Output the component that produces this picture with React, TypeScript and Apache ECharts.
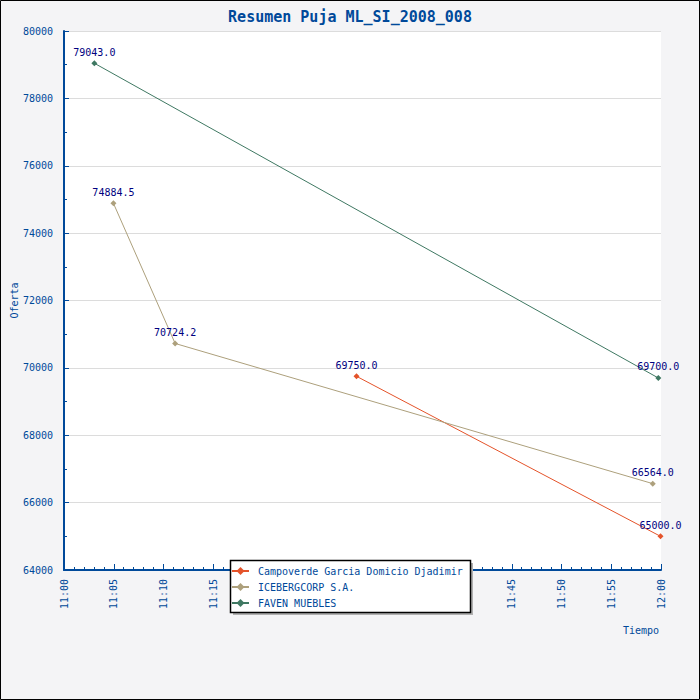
import React, { useEffect, useRef } from "react";
import * as echarts from "echarts";

const TITLE = "Resumen Puja ML_SI_2008_008";
const seriesNames = ["Campoverde Garcia Domicio Djadimir", "ICEBERGCORP S.A.", "FAVEN MUEBLES"];
const seriesColors = ["#e4532a", "#ada07c", "#3f7862"];
// minutes after 11:00
const campoverdeTimes = [29.4, 59.95];
const campoverdeValues = [69750.0, 65000.0];
const icebergTimes = [4.97, 11.17, 59.17];
const icebergValues = [74884.5, 70724.2, 66564.0];
const favenTimes = [3.05, 59.73];
const favenValues = [79043.0, 69700.0];
const xTickLabels = ["11:00", "11:05", "11:10", "11:15", "11:20", "11:25", "11:30", "11:35", "11:40", "11:45", "11:50", "11:55", "12:00"];

const FONT = "DejaVu Sans Mono";
const BLUE = "#00499a";

export default function App() {
  const ref = useRef<HTMLDivElement>(null);
  useEffect(() => {
    if (!ref.current) return;
    const chart = echarts.init(ref.current, null, { renderer: "svg" });
    const mk = (times: number[], vals: number[]) => times.map((t, i) => [t, vals[i]]);
    const allData = [
      mk(campoverdeTimes, campoverdeValues),
      mk(icebergTimes, icebergValues),
      mk(favenTimes, favenValues),
    ];
    chart.setOption({
      animation: false,
      backgroundColor: "#f4f4f6",
      textStyle: { fontFamily: FONT },
      title: {
        text: TITLE,
        left: "center",
        top: 4,
        textStyle: { fontFamily: FONT, fontSize: 15, fontWeight: "bold", color: BLUE },
      },
      graphic: [
        { type: "rect", shape: { x: 0.5, y: 0.5, width: 699, height: 699 }, style: { fill: "none", stroke: "#000", lineWidth: 1 }, z: 100 },
        { type: "rect", shape: { x: 233, y: 563, width: 240, height: 52 }, style: { fill: "#b0b0b0" }, z: 10 },
        { type: "rect", shape: { x: 230.5, y: 560.5, width: 240, height: 52 }, style: { fill: "#fff", stroke: "#000", lineWidth: 1.5 }, z: 11 },
        { type: "text", right: 41, top: 625, style: { text: "Tiempo", fontFamily: FONT, fontSize: 10, fill: BLUE }, z: 12 },
      ],
      legend: {
        orient: "vertical",
        left: 226,
        top: 561,
        itemWidth: 17,
        itemHeight: 10,
        itemGap: 6,
        z: 20,
        data: seriesNames,
        textStyle: { fontFamily: FONT, fontSize: 10, color: BLUE, padding: [0, 0, 0, 4] },
      },
      grid: {
        left: 64,
        right: 39,
        top: 31,
        bottom: 130,
        show: true,
        backgroundColor: "#ffffff",
        borderWidth: 0,
        containLabel: false,
        outerBoundsMode: "none",
      },
      xAxis: {
        type: "value",
        min: 0,
        max: 60,
        interval: 5,
        axisLine: { lineStyle: { color: BLUE, width: 2 } },
        axisTick: { inside: true, length: 6, lineStyle: { color: BLUE, width: 1 } },
        minorTick: { show: true, splitNumber: 5, length: 3, lineStyle: { color: BLUE, width: 1 } },
        splitLine: { show: false },
        axisLabel: {
          rotate: 90,
          margin: 9,
          fontFamily: FONT,
          fontSize: 10,
          color: BLUE,
          formatter: (v: number) => xTickLabels[Math.round(v / 5)] ?? "",
        },
      },
      yAxis: {
        type: "value",
        min: 64000,
        max: 80000,
        interval: 2000,
        name: "Oferta",
        nameLocation: "middle",
        nameGap: 45,
        nameMoveOverlap: false,
        nameRotate: 90,
        nameTextStyle: { fontFamily: FONT, fontSize: 10, color: BLUE },
        axisLine: { show: true, lineStyle: { color: BLUE, width: 2 } },
        axisTick: { show: true, inside: true, length: 5, lineStyle: { color: BLUE, width: 1 } },
        minorTick: { show: true, splitNumber: 2, length: 3, lineStyle: { color: BLUE, width: 1 } },
        splitLine: { show: true, lineStyle: { color: "#dcdcdc", width: 1 } },
        axisLabel: { fontFamily: FONT, fontSize: 10, color: BLUE, margin: 11, formatter: (v: number) => String(v) },
      },
      series: seriesNames.map((name, i) => ({
        name,
        type: "line",
        data: allData[i],
        color: seriesColors[i],
        symbol: "diamond",
        symbolSize: 6,
        lineStyle: { width: 1, color: seriesColors[i] },
        itemStyle: { color: seriesColors[i] },
        label: {
          show: true,
          position: "top",
          distance: 3,
          fontFamily: FONT,
          fontSize: 10,
          color: "#000080",
          formatter: (p: any) => Number(p.value[1]).toFixed(1),
        },
        z: 5,
      })),
    });
    return () => chart.dispose();
  }, []);
  return (
    <div
      ref={ref}
      style={{ position: "absolute", left: 0, top: 0, width: 700, height: 700 }}
    />
  );
}
